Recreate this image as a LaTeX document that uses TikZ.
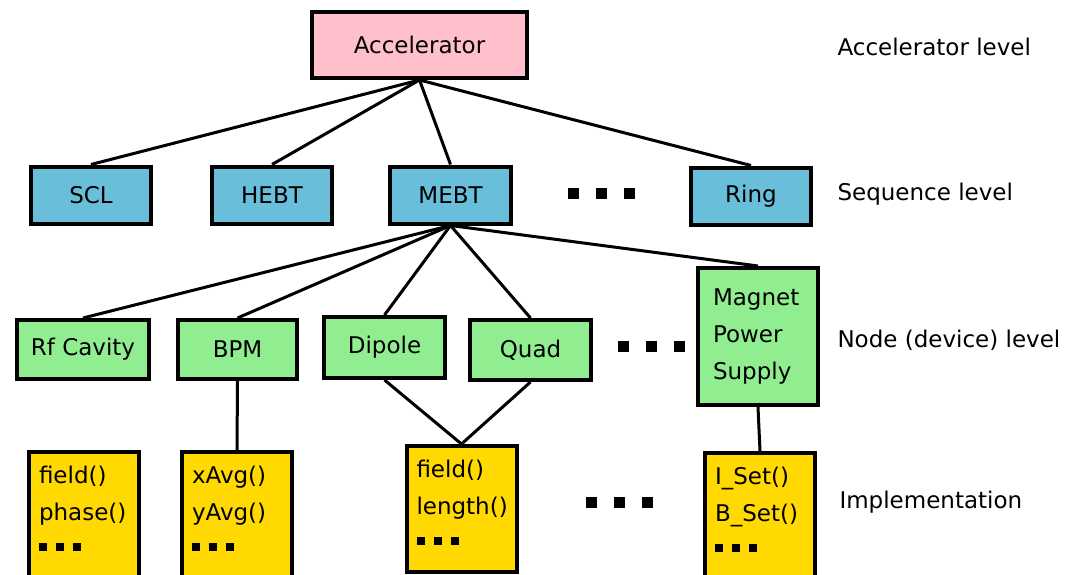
\documentclass[tikz,border=0pt]{standalone}
\usepackage{fontspec}
\setmainfont{DejaVu Sans}
\usetikzlibrary{positioning}
\definecolor{accpink}{RGB}{255,192,203}
\definecolor{seqblue}{RGB}{105,190,218}
\definecolor{devgreen}{RGB}{144,238,144}
\definecolor{implgold}{RGB}{255,217,0}
\tikzstyle{box} = [rectangle, draw, line width=4pt, inner sep=0pt,
    font=\fontsize{23}{37}\selectfont]
\tikzstyle{acc} = [box, fill=accpink, minimum width=215pt, minimum height=66pt]
\tikzstyle{seq} = [box, fill=seqblue, minimum width=120pt, minimum height=57pt]
\tikzstyle{dev} = [box, fill=devgreen, minimum width=121pt, minimum height=60pt]
\tikzstyle{impl} = [box, fill=implgold, anchor=north, inner xsep=10pt]
\tikzstyle{bigdots} = [inner sep=0pt]
\tikzstyle{levellabel} = [anchor=west, font=\fontsize{23}{28}\selectfont]
\tikzstyle{edge} = [draw, line width=3pt]
\newcommand{\blockdots}[2]{\rule{#1}{#1}\hspace{#2}\rule{#1}{#1}\hspace{#2}\rule{#1}{#1}}
\newcommand{\methods}[2]{\parbox[t][#1][t]{90pt}{\rule{0pt}{31pt}#2}}

\begin{document}
\begin{tikzpicture}[x=1pt, y=-1pt]
\useasboundingbox (0,0) rectangle (1076,575);
% Place nodes
\node [acc] (accel) at (419.5,45) {Accelerator};

\node [seq] (scl) at (91,195) {SCL};
\node [seq] (hebt) at (272,195) {HEBT};
\node [seq, minimum width=121pt] (mebt) at (450.5,195) {MEBT};
\node [bigdots] (seqdots) at (601,193) {\blockdots{11pt}{17pt}};
\node [seq] (ring) at (751,196) {Ring};

\node [dev, minimum width=132pt, minimum height=59pt] (rfcav) at (83,349.5) {Rf Cavity};
\node [dev, minimum width=119pt, minimum height=59pt] (bpm) at (237.5,349.5) {BPM};
\node [dev, minimum height=61pt] (dipole) at (384.5,347.5) {Dipole};
\node [dev] (quad) at (530.5,350) {Quad};
\node [bigdots] (devdots) at (651,346) {\blockdots{11pt}{17pt}};
\node [dev, minimum width=120pt, minimum height=137pt, align=left,
    text width=90pt] (magnet) at (758,336.5) {Magnet\\Power\\Supply};

\node [impl] (rfimpl) at (84,450)
    {\methods{135pt}{field()\\phase()\\[-6pt]\blockdots{8pt}{9pt}}};
\node [impl] (bpmimpl) at (237,450)
    {\methods{135pt}{xAvg()\\yAvg()\\[-6pt]\blockdots{8pt}{9pt}}};
\node [impl] (quadimpl) at (461.5,444)
    {\methods{126pt}{field()\\length()\\[-6pt]\blockdots{8pt}{9pt}}};
\node [bigdots] (impldots) at (619,502) {\blockdots{11pt}{17pt}};
\node [impl] (magimpl) at (760,451)
    {\methods{135pt}{I\_Set()\\B\_Set()\\[-6pt]\blockdots{8pt}{9pt}}};

% Level names
\node [levellabel] (acclevel) at (834,47) {Accelerator level};
\node [levellabel] (seqlevel) at (834,194) {Sequence level};
\node [levellabel] (devlevel) at (834,340) {Node (device) level};
\node [levellabel] (impllevel) at (836,502) {Implementation};

% Draw edges
\path [edge] (accel.south) -- (scl.north);
\path [edge] (accel.south) -- (hebt.north);
\path [edge] (accel.south) -- (mebt.north);
\path [edge] (accel.south) -- (ring.north);

\path [edge] (mebt.south) -- (rfcav.north);
\path [edge] (mebt.south) -- (bpm.north);
\path [edge] (mebt.south) -- (dipole.north);
\path [edge] (mebt.south) -- (quad.north);
\path [edge] (mebt.south) -- (magnet.north);

\path [edge] (bpm.south) -- (bpmimpl.north);
\path [edge] (dipole.south) -- (quadimpl.north);
\path [edge] (quad.south) -- (quadimpl.north);
\path [edge] (magnet.south) -- (magimpl.north);

\end{tikzpicture}
\end{document}
